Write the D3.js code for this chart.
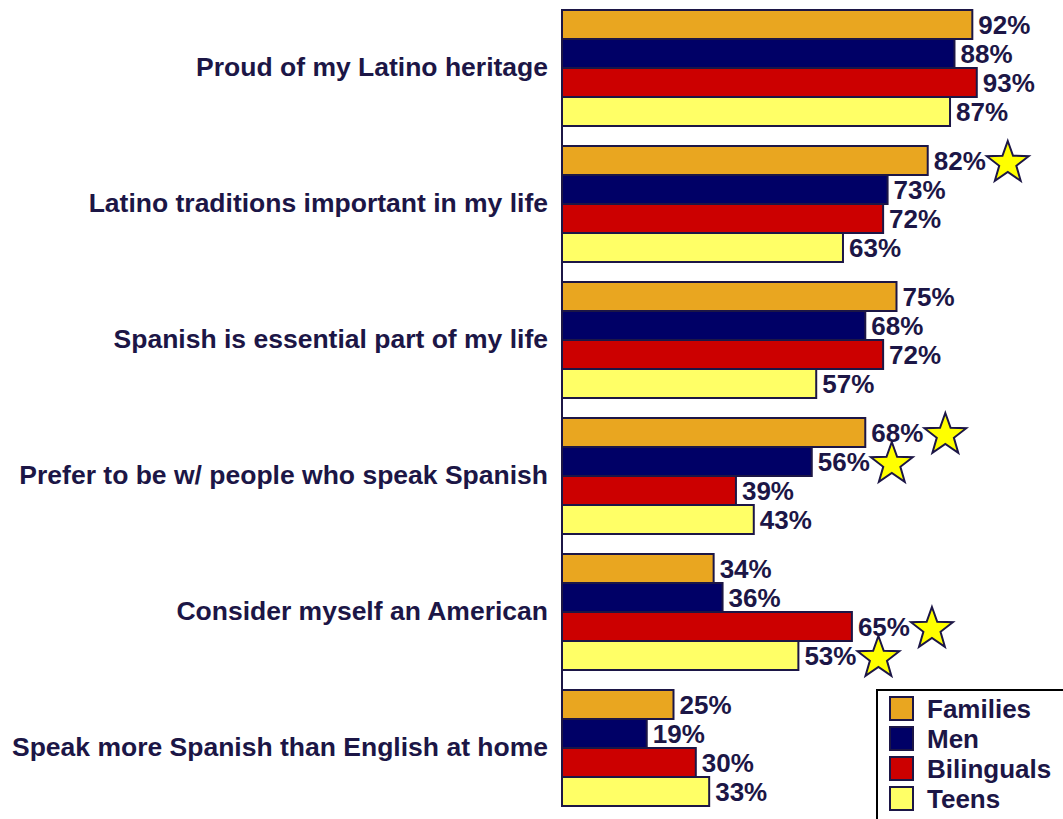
<!DOCTYPE html>
<html>
<head>
<meta charset="utf-8">
<script src="https://cdn.jsdelivr.net/npm/d3@7"></script>
<style>
  html, body { margin: 0; padding: 0; background: #fff; }
  svg { display: block; }
  text { font-family: "Liberation Sans", Arial, sans-serif; font-weight: bold; }
</style>
</head>
<body>
<svg id="chart" width="1063" height="819"></svg>
<script>
// Statements shown on the left, top to bottom
const categories = [
  "Proud of my Latino heritage",
  "Latino traditions important in my life",
  "Spanish is essential part of my life",
  "Prefer to be w/ people who speak Spanish",
  "Consider myself an American",
  "Speak more Spanish than English at home"
];

// Audience segments
const series = ["Families", "Men", "Bilinguals", "Teens"];

// Percent agreeing, one array per segment (same order as categories)
const families   = [92, 82, 75, 68, 34, 25];
const men        = [88, 73, 68, 56, 36, 19];
const bilinguals = [93, 72, 72, 39, 65, 30];
const teens      = [87, 63, 57, 43, 53, 33];

// Segments flagged with a star, per category
const starred = [
  [],
  ["Families"],
  [],
  ["Families", "Men"],
  ["Bilinguals", "Teens"],
  []
];

const colors = ["#E9A620", "#000066", "#CC0000", "#FFFF66"];
const ink = "#1C1646";
const fontSize = 26;
const categoryFontSize = 26.5;

const valuesBySeries = { Families: families, Men: men, Bilinguals: bilinguals, Teens: teens };

const rows = categories.map((c, i) => ({
  category: c,
  bars: series.map(s => ({ series: s, value: valuesBySeries[s][i], star: starred[i].includes(s) }))
}));

const svg = d3.select("#chart");

const x = d3.scaleLinear().domain([0, 100]).range([562, 1008]);

const y = d3.scaleBand()
  .domain(categories)
  .range([0, 816])
  .paddingInner(20 / 136)
  .paddingOuter(10 / 136);

const ySub = d3.scaleBand()
  .domain(series)
  .range([0, y.bandwidth()]);

const color = d3.scaleOrdinal().domain(series).range(colors);

// Five-pointed star path centred at (0,0)
function starPath(rOuter, rInner) {
  const pts = [];
  for (let k = 0; k < 10; k++) {
    const r = k % 2 === 0 ? rOuter : rInner;
    const a = -Math.PI / 2 + k * Math.PI / 5;
    pts.push([r * Math.cos(a), r * Math.sin(a)]);
  }
  return "M" + pts.map(p => p.join(",")).join("L") + "Z";
}

const groups = svg.selectAll("g.group")
  .data(rows)
  .join("g")
  .attr("class", "group")
  .attr("transform", d => `translate(0,${y(d.category)})`);

groups.selectAll("rect")
  .data(d => d.bars)
  .join("rect")
  .attr("x", x(0))
  .attr("y", d => ySub(d.series))
  .attr("width", d => x(d.value) - x(0))
  .attr("height", ySub.bandwidth())
  .attr("fill", d => color(d.series))
  .attr("stroke", ink)
  .attr("stroke-width", 2);

// Category labels
groups.append("text")
  .attr("x", 548)
  .attr("y", y.bandwidth() / 2 - 1)
  .attr("dy", "0.35em")
  .attr("text-anchor", "end")
  .attr("font-size", categoryFontSize)
  .attr("fill", ink)
  .text(d => d.category);

// Value labels and stars
groups.each(function(d) {
  const g = d3.select(this);
  d.bars.forEach(b => {
    const cy = ySub(b.series) + ySub.bandwidth() / 2;
    const t = g.append("text")
      .attr("x", x(b.value) + 6)
      .attr("y", cy)
      .attr("dy", "0.35em")
      .attr("font-size", fontSize)
      .attr("fill", ink)
      .text(b.value + "%");
    if (b.star) {
      const end = x(b.value) + 6 + t.node().getComputedTextLength();
      g.append("path")
        .attr("d", starPath(22, 9))
        .attr("transform", `translate(${end + 22},${cy + 2.5})`)
        .attr("fill", "#FFFF00")
        .attr("stroke", ink)
        .attr("stroke-width", 2)
        .attr("stroke-linejoin", "miter");
    }
  });
});

// Value axis baseline
svg.append("line")
  .attr("x1", x(0)).attr("x2", x(0))
  .attr("y1", y(categories[0])).attr("y2", y(categories[categories.length - 1]) + y.bandwidth())
  .attr("stroke", ink).attr("stroke-width", 2);

// Legend
const legend = svg.append("g").attr("transform", "translate(877,690)");
legend.append("rect")
  .attr("x", 0).attr("y", 0)
  .attr("width", 200).attr("height", 140)
  .attr("fill", "#fff")
  .attr("stroke", "#000")
  .attr("stroke-width", 2);

const li = legend.selectAll("g.item")
  .data(series)
  .join("g")
  .attr("class", "item")
  .attr("transform", (d, i) => `translate(0,${18 + i * 30})`);

li.append("rect")
  .attr("x", 13).attr("y", -11)
  .attr("width", 23).attr("height", 23)
  .attr("fill", d => color(d))
  .attr("stroke", ink)
  .attr("stroke-width", 2);

li.append("text")
  .attr("x", 50)
  .attr("y", 1)
  .attr("dy", "0.35em")
  .attr("font-size", fontSize)
  .attr("fill", ink)
  .text(d => d);
</script>
</body>
</html>
